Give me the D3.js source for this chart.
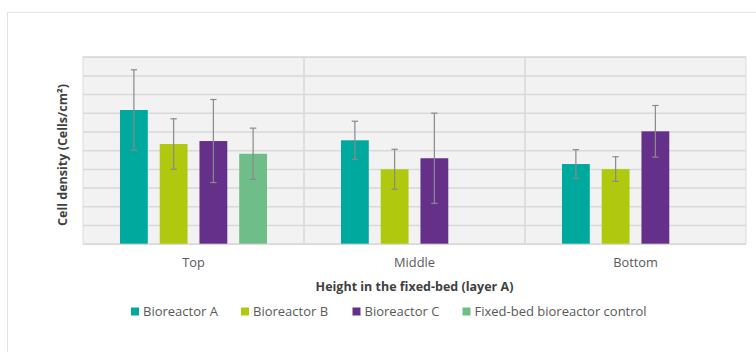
<!DOCTYPE html>
<html>
<head>
<meta charset="utf-8">
<script src="https://cdn.jsdelivr.net/npm/d3@7"></script>
<style>
  html, body { margin: 0; padding: 0; background: #fff; }
  svg { display: block; font-family: "Open Sans", "Noto Sans", sans-serif; }
</style>
</head>
<body>
<svg id="chart" width="756" height="352"></svg>
<script>
// Positions along the fixed bed
const categories = ["Top", "Middle", "Bottom"];
const seriesNames = ["Bioreactor A", "Bioreactor B", "Bioreactor C", "Fixed-bed bioreactor control"];
const seriesColors = ["#00a99d", "#b0c90f", "#653089", "#6fbd88"];

// Mean cell density per series (arbitrary units, one gridline = 1); null = not measured
const bioreactorA = [7.15, 5.53, 4.26];
const bioreactorB = [5.33, 3.98, 3.99];
const bioreactorC = [5.49, 4.57, 6.01];
const control     = [4.81, null, null];

// Standard deviation per series
const errA = [2.15, 1.02, 0.77];
const errB = [1.35, 1.07, 0.66];
const errC = [2.22, 2.41, 1.38];
const errControl = [1.37, null, null];

const yTicks = d3.range(0, 11);

const means = [bioreactorA, bioreactorB, bioreactorC, control];
const errs = [errA, errB, errC, errControl];

const rows = [];
categories.forEach((cat, ci) => {
  seriesNames.forEach((s, si) => {
    if (means[si][ci] != null) {
      rows.push({ cat, series: s, value: means[si][ci], err: errs[si][ci], color: seriesColors[si] });
    }
  });
});

const svg = d3.select("#chart");
const margin = { left: 83, right: 10, top: 56.7, bottom: 108.3 };
const W = 756, H = 352;
const plotW = 663, plotH = 187;

// outer chart frame
svg.append("rect")
  .attr("x", 7.5).attr("y", 12.5)
  .attr("width", W).attr("height", H)
  .attr("fill", "#fff").attr("stroke", "#e3e3e3").attr("stroke-width", 1);

const defs = svg.append("defs");
const pat = defs.append("pattern")
  .attr("id", "dots").attr("width", 2).attr("height", 2)
  .attr("patternUnits", "userSpaceOnUse");
pat.append("rect").attr("width", 2).attr("height", 2).attr("fill", "#f8f8f8");
pat.append("rect").attr("width", 1).attr("height", 1).attr("fill", "#ececec");
pat.append("rect").attr("x", 1).attr("y", 1).attr("width", 1).attr("height", 1).attr("fill", "#ececec");

const g = svg.append("g").attr("transform", `translate(${margin.left},${margin.top})`);

const x0 = d3.scaleBand().domain(categories).range([0, plotW]).padding(0);
const x1 = d3.scaleBand().domain(seriesNames).range([0, x0.bandwidth()])
  .paddingInner(0.3).paddingOuter(0.93);
const y = d3.scaleLinear().domain([0, 10]).range([plotH, 0]);

// plot background
g.append("rect").attr("width", plotW).attr("height", plotH)
  .attr("fill", "url(#dots)");

// horizontal gridlines
g.append("g").call(d3.axisLeft(y).tickValues(yTicks).tickSize(-plotW).tickFormat(""))
  .call(a => a.select(".domain").remove())
  .call(a => a.selectAll("line").attr("stroke", "#d9d9d9").attr("stroke-width", 1.5));

// category separators
g.append("g").selectAll("line")
  .data(categories.slice(1))
  .join("line")
  .attr("x1", d => x0(d)).attr("x2", d => x0(d))
  .attr("y1", 0).attr("y2", plotH)
  .attr("stroke", "#d9d9d9").attr("stroke-width", 1.5);

// plot frame
g.append("rect").attr("width", plotW).attr("height", plotH)
  .attr("fill", "none").attr("stroke", "#dcdcdc").attr("stroke-width", 1);

// bars
g.append("g").selectAll("rect")
  .data(rows)
  .join("rect")
  .attr("x", d => x0(d.cat) + x1(d.series))
  .attr("width", x1.bandwidth())
  .attr("y", d => y(d.value))
  .attr("height", d => plotH - y(d.value))
  .attr("fill", d => d.color);

// error bars
const eb = g.append("g").attr("stroke", "#8a8a8a").attr("stroke-width", 1.2).attr("fill", "none");
const cap = 3.2;
rows.forEach(d => {
  const cx = x0(d.cat) + x1(d.series) + x1.bandwidth() / 2;
  const yt = y(d.value + d.err), yb = y(d.value - d.err);
  eb.append("line").attr("x1", cx).attr("x2", cx).attr("y1", yt).attr("y2", yb);
  eb.append("line").attr("x1", cx - cap).attr("x2", cx + cap).attr("y1", yt).attr("y2", yt);
  eb.append("line").attr("x1", cx - cap).attr("x2", cx + cap).attr("y1", yb).attr("y2", yb);
});

// category labels
const xa = g.append("g").attr("transform", `translate(0,${plotH})`)
  .call(d3.axisBottom(x0).tickSize(0).tickPadding(14));
xa.select(".domain").remove();
xa.selectAll("text")
  .attr("font-size", 12.8).attr("fill", "#595959")
  .attr("font-family", "'Open Sans', sans-serif");

// axis titles
svg.append("text")
  .attr("x", margin.left + plotW / 2).attr("y", 291)
  .attr("text-anchor", "middle")
  .attr("font-size", 12.5).attr("font-weight", "bold").attr("fill", "#404040")
  .text("Height in the fixed-bed (layer A)");

svg.append("text")
  .attr("transform", `translate(67,${155}) rotate(-90)`)
  .attr("text-anchor", "middle")
  .attr("font-size", 12.5).attr("font-weight", "bold").attr("fill", "#404040")
  .text("Cell density (Cells/cm²)");

// legend
const legendX = [131, 241, 352.5, 462.5];
const leg = svg.append("g").attr("transform", "translate(0,311.5)");
seriesNames.forEach((s, i) => {
  const item = leg.append("g").attr("transform", `translate(${legendX[i]},0)`);
  item.append("rect").attr("x", 0).attr("y", -4).attr("width", 8).attr("height", 8)
    .attr("fill", seriesColors[i]);
  item.append("text").attr("x", 12).attr("y", 4.5)
    .attr("font-size", 13).attr("fill", "#595959")
    .text(s);
});
</script>
</body>
</html>
